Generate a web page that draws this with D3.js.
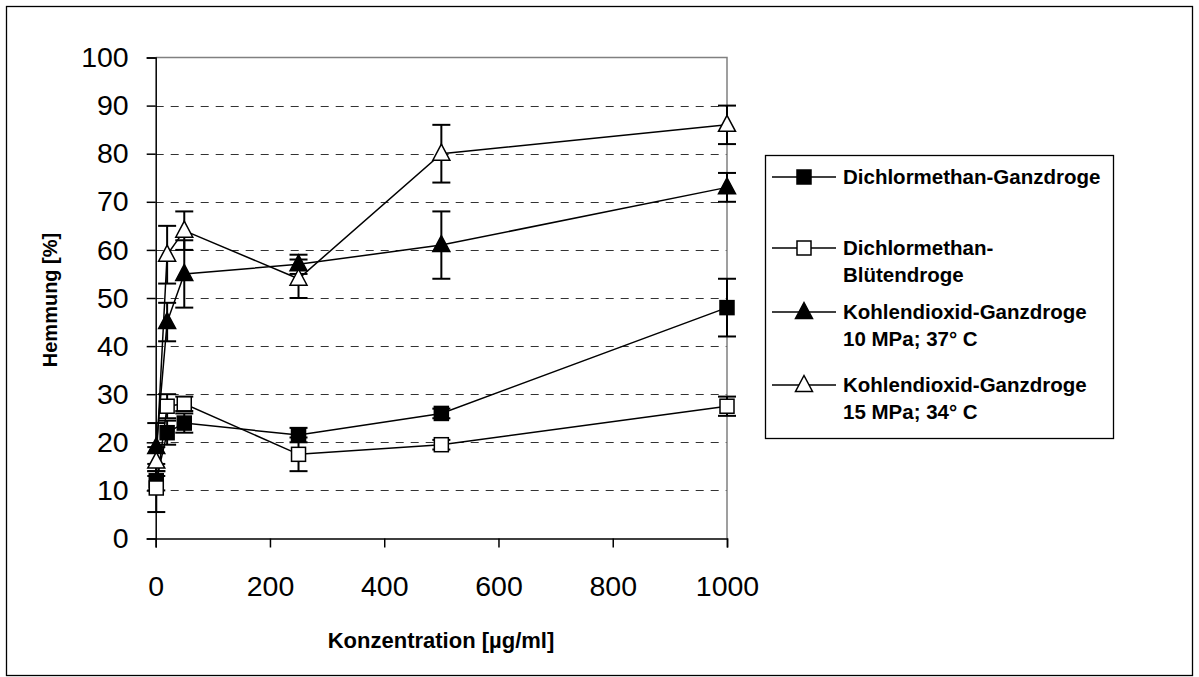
<!DOCTYPE html>
<html>
<head>
<meta charset="utf-8">
<script src="https://cdn.jsdelivr.net/npm/d3@7"></script>
<style>
  body { margin: 0; background: #fff; }
  svg { font-family: 'Liberation Sans', Arial, sans-serif; }
</style>
</head>
<body>
<div id="chart"></div>
<script>
// Konzentrationen (µg/ml)
const conc = [1, 20, 50, 250, 500, 1000];

const seriesNames = [
  ['Dichlormethan-Ganzdroge'],
  ['Dichlormethan-', 'Blütendroge'],
  ['Kohlendioxid-Ganzdroge', '10 MPa; 37° C'],
  ['Kohlendioxid-Ganzdroge', '15 MPa; 34° C']
];

const dcmGanz = [12, 22, 24, 21.5, 26, 48];
const dcmGanzErr = [2, 2.5, 2, 1.5, 1, 6];
const dcmBlueten = [10.5, 27.5, 28, 17.5, 19.5, 27.5];
const dcmBluetenErr = [5, 2.5, 1.5, 3.5, 1, 2];
const co2Low = [19, 45, 55, 57, 61, 73];
const co2LowErr = [5, 4, 7, 2, 7, 3];
const co2High = [16, 59, 64, 54, 80, 86];
const co2HighErr = [3, 6, 4, 4, 6, 4];

const xTicks = [0, 200, 400, 600, 800, 1000];
const yTicks = [0, 10, 20, 30, 40, 50, 60, 70, 80, 90, 100];

const series = [
  { name: seriesNames[0], values: dcmGanz, err: dcmGanzErr, shape: 'square', fill: '#000' },
  { name: seriesNames[1], values: dcmBlueten, err: dcmBluetenErr, shape: 'square', fill: '#fff' },
  { name: seriesNames[2], values: co2Low, err: co2LowErr, shape: 'triangle', fill: '#000' },
  { name: seriesNames[3], values: co2High, err: co2HighErr, shape: 'triangle', fill: '#fff' }
];

const W = 1199, H = 677;
const plot = { left: 155.7, right: 727, top: 57.5, bottom: 538.5 };

const svg = d3.select('#chart')
  .append('svg')
  .attr('width', W)
  .attr('height', H);

// outer frame
svg.append('rect')
  .attr('x', 6.5).attr('y', 6.5)
  .attr('width', 1186).attr('height', 669)
  .attr('fill', 'none')
  .attr('stroke', '#000')
  .attr('stroke-width', 1.3);

const x = d3.scaleLinear().domain([0, 1000]).range([plot.left, plot.right]);
const y = d3.scaleLinear().domain([0, 100]).range([plot.bottom, plot.top]);

// gridlines
svg.append('g')
  .selectAll('line')
  .data(yTicks.filter((d) => d > 0 && d < 100))
  .join('line')
  .attr('x1', plot.left)
  .attr('x2', plot.right)
  .attr('y1', (d) => Math.round(y(d)) + 0.5)
  .attr('y2', (d) => Math.round(y(d)) + 0.5)
  .attr('stroke', '#333')
  .attr('stroke-width', 1)
  .attr('stroke-dasharray', '8,7');

// plot area border (top / right)
svg.append('path')
  .attr('d', `M${plot.left},${y(100)}H${x(1000)}V${y(0)}`)
  .attr('fill', 'none')
  .attr('stroke', '#808080')
  .attr('stroke-width', 1.5);

// axes
const yAxis = d3.axisLeft(y).tickValues(yTicks).tickSize(9).tickPadding(18).tickFormat(d3.format('d'));
const xAxis = d3.axisBottom(x).tickValues(xTicks).tickSize(9).tickPadding(28).tickFormat(d3.format('d'));

svg.append('g')
  .attr('transform', `translate(${plot.left},0)`)
  .call(yAxis)
  .call((g) => g.select('.domain').attr('stroke-width', 1.5))
  .call((g) => g.selectAll('.tick line').attr('stroke-width', 1.5))
  .call((g) => g.selectAll('text').attr('font-size', 28.5).attr('font-family', 'Liberation Sans').attr('fill', '#000'));

svg.append('g')
  .attr('transform', `translate(0,${plot.bottom})`)
  .call(xAxis)
  .call((g) => g.select('.domain').attr('stroke-width', 1.5))
  .call((g) => g.selectAll('.tick line').attr('stroke-width', 1.5))
  .call((g) => g.selectAll('text').attr('font-size', 28.5).attr('font-family', 'Liberation Sans').attr('fill', '#000'));

// axis titles
svg.append('text')
  .attr('x', 441)
  .attr('y', 648)
  .attr('text-anchor', 'middle')
  .attr('font-size', 22)
  .attr('font-weight', 'bold')
  .text('Konzentration [µg/ml]');

svg.append('text')
  .attr('transform', 'rotate(-90)')
  .attr('x', -300)
  .attr('y', 57)
  .attr('text-anchor', 'middle')
  .attr('font-size', 20)
  .attr('font-weight', 'bold')
  .text('Hemmung [%]');

function drawMarker(g, shape, fill, cx, cy) {
  if (shape === 'square') {
    g.append('rect')
      .attr('x', cx - 7).attr('y', cy - 7)
      .attr('width', 14).attr('height', 14)
      .attr('fill', fill)
      .attr('stroke', '#000')
      .attr('stroke-width', 1.5);
  } else {
    g.append('path')
      .attr('d', `M${cx},${cy - 9.5}L${cx + 8.5},${cy + 6.5}L${cx - 8.5},${cy + 6.5}Z`)
      .attr('fill', fill)
      .attr('stroke', '#000')
      .attr('stroke-width', 1.5);
  }
}

const line = d3.line()
  .x((d) => x(d[0]))
  .y((d) => y(d[1]));

series.forEach((s) => {
  const g = svg.append('g');
  const pts = conc.map((c, i) => [c, s.values[i], s.err[i]]);

  // error bars
  pts.forEach((p) => {
    const cx = x(p[0]);
    const top = y(p[1] + p[2]);
    const bot = y(p[1] - p[2]);
    g.append('line')
      .attr('x1', cx).attr('x2', cx)
      .attr('y1', top).attr('y2', bot)
      .attr('stroke', '#000').attr('stroke-width', 2);
    [top, bot].forEach((yy) => {
      g.append('line')
        .attr('x1', cx - 9).attr('x2', cx + 9)
        .attr('y1', yy).attr('y2', yy)
        .attr('stroke', '#000').attr('stroke-width', 2);
    });
  });

  g.append('path')
    .datum(pts)
    .attr('d', line)
    .attr('fill', 'none')
    .attr('stroke', '#000')
    .attr('stroke-width', 1.5);

  pts.forEach((p) => drawMarker(g, s.shape, s.fill, x(p[0]), y(p[1])));
});

// legend
const legend = svg.append('g');
legend.append('rect')
  .attr('x', 765.5).attr('y', 155.5)
  .attr('width', 348).attr('height', 283)
  .attr('fill', '#fff')
  .attr('stroke', '#000')
  .attr('stroke-width', 1.3);

const legendY = [177, 248, 312, 385];
series.forEach((s, i) => {
  const ly = legendY[i];
  legend.append('line')
    .attr('x1', 772).attr('x2', 836)
    .attr('y1', ly).attr('y2', ly)
    .attr('stroke', '#000').attr('stroke-width', 1.5);
  drawMarker(legend, s.shape, s.fill, 804, ly);
  s.name.forEach((t, j) => {
    legend.append('text')
      .attr('x', 843)
      .attr('y', ly + j * 27)
      .attr('dy', '0.36em')
      .attr('font-size', 20.5)
      .attr('font-weight', 'bold')
      .text(t);
  });
});
</script>
</body>
</html>
